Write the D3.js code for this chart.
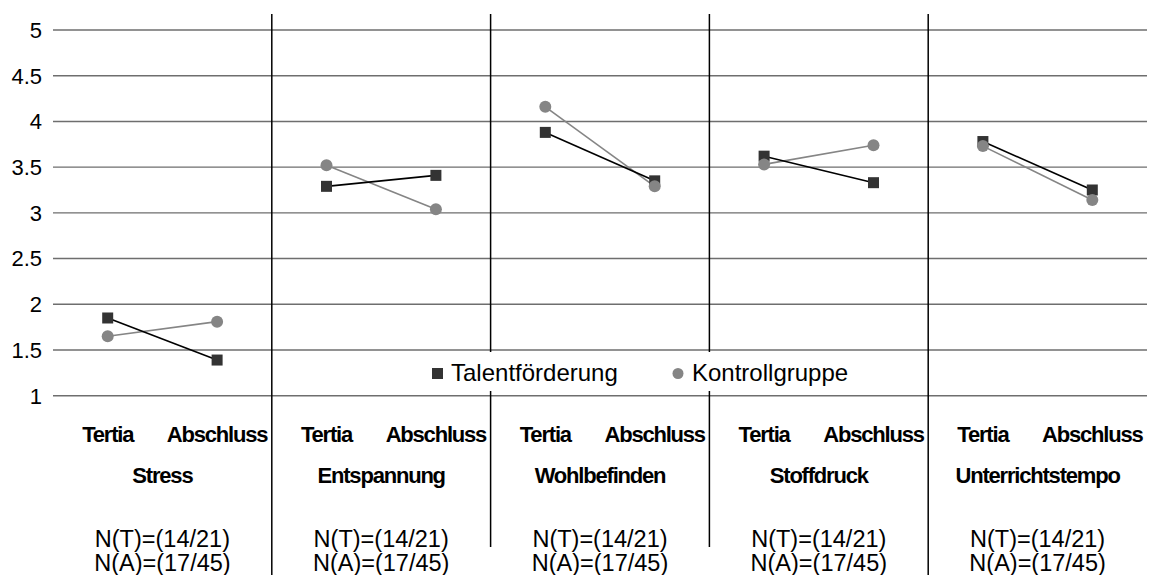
<!DOCTYPE html>
<html>
<head>
<meta charset="utf-8">
<script src="https://cdn.jsdelivr.net/npm/d3@7"></script>
<style>
  body { margin: 0; background: #fff; }
  text { font-family: "Liberation Sans", Arial, sans-serif; fill: #000; }
  .bold { font-weight: bold; letter-spacing: -1.2px; }
</style>
</head>
<body>
<svg id="chart"></svg>
<script>
// values
const groups = ["Stress", "Entspannung", "Wohlbefinden", "Stoffdruck", "Unterrichtstempo"];
const periods = ["Tertia", "Abschluss"];
const talent = [[1.85, 1.39], [3.29, 3.41], [3.88, 3.35], [3.62, 3.33], [3.78, 3.25]];
const kontroll = [[1.65, 1.81], [3.52, 3.04], [4.16, 3.29], [3.53, 3.74], [3.73, 3.14]];
const nLabels = ["N(T)=(14/21)", "N(A)=(17/45)"];
const yTicks = [1, 1.5, 2, 2.5, 3, 3.5, 4, 4.5, 5];
const legendNames = ["Talentförderung", "Kontrollgruppe"];

const W = 1149, H = 575;
const margin = { top: 30, right: 2, left: 53 };
const plotBottom = 395.7;

const svg = d3.select("#chart")
    .attr("width", W)
    .attr("height", H);

const x0 = d3.scaleBand()
    .domain(groups)
    .range([margin.left, W - margin.right]);
const x1 = d3.scaleBand()
    .domain(periods)
    .range([0, x0.bandwidth()]);
const y = d3.scaleLinear()
    .domain([1, 5])
    .range([plotBottom, margin.top]);

const px = (g, p) => x0(g) + x1(p) + x1.bandwidth() / 2;

// gridlines
svg.append("g")
    .selectAll("line")
    .data(yTicks)
    .join("line")
    .attr("x1", margin.left)
    .attr("x2", W - margin.right)
    .attr("y1", d => y(d))
    .attr("y2", d => y(d))
    .attr("stroke", "#6e6e6e")
    .attr("stroke-width", 1.4);

// y tick labels
svg.append("g")
    .selectAll("text")
    .data(yTicks)
    .join("text")
    .attr("x", 42)
    .attr("y", d => y(d))
    .attr("dy", "0.36em")
    .attr("text-anchor", "end")
    .style("font-size", "22px")
    .text(d => d);

// separators between groups
svg.append("g")
    .selectAll("line")
    .data(groups.slice(1))
    .join("line")
    .attr("x1", d => x0(d))
    .attr("x2", d => x0(d))
    .attr("y1", 14)
    .attr("y2", (d, i) => (i === 0 || i === 3) ? H : 547)
    .attr("stroke", "#000")
    .attr("stroke-width", 1.5);

// series
const line = d3.line()
    .x(d => px(d.g, d.p))
    .y(d => y(d.v));

function seriesData(vals) {
    return groups.map((g, i) => periods.map((p, j) => ({ g, p, v: vals[i][j] })));
}

const kData = seriesData(kontroll);
const tData = seriesData(talent);

svg.append("g")
    .selectAll("path")
    .data(kData)
    .join("path")
    .attr("d", line)
    .attr("fill", "none")
    .attr("stroke", "#858585")
    .attr("stroke-width", 1.6);

svg.append("g")
    .selectAll("path")
    .data(tData)
    .join("path")
    .attr("d", line)
    .attr("fill", "none")
    .attr("stroke", "#000")
    .attr("stroke-width", 1.6);

svg.append("g")
    .selectAll("rect")
    .data(tData.flat())
    .join("rect")
    .attr("x", d => px(d.g, d.p) - 5.5)
    .attr("y", d => y(d.v) - 5.5)
    .attr("width", 11)
    .attr("height", 11)
    .attr("fill", "#333");

svg.append("g")
    .selectAll("circle")
    .data(kData.flat())
    .join("circle")
    .attr("cx", d => px(d.g, d.p))
    .attr("cy", d => y(d.v))
    .attr("r", 6)
    .attr("fill", "#858585");

// legend
const legend = svg.append("g");
legend.append("rect")
    .attr("x", 426)
    .attr("y", 352)
    .attr("width", 434)
    .attr("height", 39)
    .attr("fill", "#fff");
legend.append("rect")
    .attr("x", 432)
    .attr("y", 368)
    .attr("width", 11)
    .attr("height", 11)
    .attr("fill", "#333");
legend.append("text")
    .attr("x", 451)
    .attr("y", 380.5)
    .style("font-size", "24px")
    .text(legendNames[0]);
legend.append("circle")
    .attr("cx", 678)
    .attr("cy", 373.5)
    .attr("r", 5.5)
    .attr("fill", "#858585");
legend.append("text")
    .attr("x", 692)
    .attr("y", 380.5)
    .style("font-size", "24px")
    .text(legendNames[1]);

// category labels
const lab = svg.append("g");
groups.forEach(g => {
    periods.forEach(p => {
        lab.append("text")
            .attr("class", "bold")
            .attr("x", px(g, p))
            .attr("y", 442)
            .attr("text-anchor", "middle")
            .style("font-size", "22px")
            .text(p);
    });
    const cx = x0(g) + x0.bandwidth() / 2;
    lab.append("text")
        .attr("class", "bold")
        .attr("x", cx)
        .attr("y", 483)
        .attr("text-anchor", "middle")
        .style("font-size", "22px")
        .text(g);
    nLabels.forEach((n, k) => {
        lab.append("text")
            .attr("x", cx)
            .attr("y", 547 + k * 23.5)
            .attr("text-anchor", "middle")
            .style("font-size", "23.5px")
            .text(n);
    });
});
</script>
</body>
</html>
